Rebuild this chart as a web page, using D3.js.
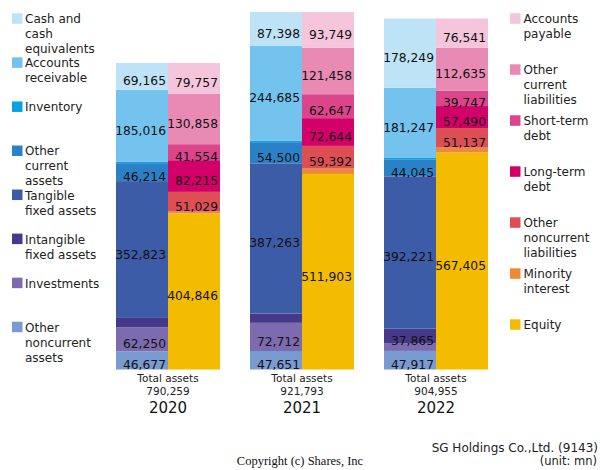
<!DOCTYPE html>
<html><head><meta charset="utf-8">
<script src="https://cdn.jsdelivr.net/npm/d3@7"></script>
<style>body{margin:0;background:#fff}svg{display:block}</style>
</head><body>
<script>
const years = ["2020", "2021", "2022"];
const totalAssets = [790259, 921793, 904955];
// assets (top to bottom)
const cash = [69165, 87398, 178249];
const receivables = [185016, 244685, 181247];
const inventory = [4114, 3584, 3400];
const otherCurrentAssets = [46214, 54500, 44045];
const tangibleAssets = [352823, 387263, 392221];
const intangibleAssets = [24000, 24000, 37865];
const investments = [62250, 72712, 20011];
const otherNoncurrentAssets = [46677, 47651, 47917];
// liabilities & equity (top to bottom)
const payables = [79757, 93749, 76541];
const otherCurrentLiabilities = [130858, 121458, 112635];
const shortTermDebt = [41554, 62647, 39747];
const longTermDebt = [82215, 72644, 57490];
const otherNoncurrentLiabilities = [51029, 59392, 51137];
const minorityInterest = [5000, 14000, 13000];
const equity = [404846, 511903, 567405];

const assetSeries = [
  {name: ["Cash and", "cash", "equivalents"], values: cash, color: "#BEE3F7"},
  {name: ["Accounts", "receivable"], values: receivables, color: "#74C2EE"},
  {name: ["Inventory"], values: inventory, color: "#05A2E2"},
  {name: ["Other", "current", "assets"], values: otherCurrentAssets, color: "#2B81C7"},
  {name: ["Tangible", "fixed assets"], values: tangibleAssets, color: "#3D5CA8"},
  {name: ["Intangible", "fixed assets"], values: intangibleAssets, color: "#46388A"},
  {name: ["Investments"], values: investments, color: "#7C6BAF"},
  {name: ["Other", "noncurrent", "assets"], values: otherNoncurrentAssets, color: "#7A9AD2"}
];
const liabSeries = [
  {name: ["Accounts", "payable"], values: payables, color: "#F5C5DB"},
  {name: ["Other", "current", "liabilities"], values: otherCurrentLiabilities, color: "#E88AB4"},
  {name: ["Short-term", "debt"], values: shortTermDebt, color: "#DC458B"},
  {name: ["Long-term", "debt"], values: longTermDebt, color: "#D4006A"},
  {name: ["Other", "noncurrent", "liabilities"], values: otherNoncurrentLiabilities, color: "#DE4E55"},
  {name: ["Minority", "interest"], values: minorityInterest, color: "#EC8A3A"},
  {name: ["Equity"], values: equity, color: "#F4BC00"}
];

const W = 600, H = 470;
const svg = d3.select("body").append("svg").attr("width", W).attr("height", H)
  .style("font-family", "'DejaVu Sans', sans-serif");

const x = d3.scaleBand().domain(years).range([101, 503]).paddingInner(0.224).paddingOuter(0.112);
const y = d3.scaleLinear().domain([0, d3.max(totalAssets)]).range([369.5, 12]);
const half = x.bandwidth() / 2;
const fmt = d3.format(",");

function drawSide(series, side) {
  const bottomUp = series.slice().reverse();
  years.forEach((yr, i) => {
    const sum = d3.sum(bottomUp, s => s.values[i]);
    const k = totalAssets[i] / sum;
    let acc = 0;
    const x0 = x(yr) + (side === "right" ? half : 0);
    bottomUp.forEach(s => {
      const v = s.values[i];
      const y0 = y(acc * k), y1 = y((acc + v) * k);
      acc += v;
      svg.append("rect").attr("x", x0).attr("y", y1).attr("width", half)
        .attr("height", y0 - y1).attr("fill", s.color);
      if (y0 - y1 >= 12) {
        svg.append("text").attr("x", x0 + half - 2).attr("y", (y0 + y1) / 2 + 9)
          .attr("text-anchor", "end").attr("font-size", "12.3px").attr("fill", "#111")
          .text(fmt(v));
      }
    });
  });
}
drawSide(assetSeries, "left");
drawSide(liabSeries, "right");

years.forEach((yr, i) => {
  const cx = x(yr) + x.bandwidth() / 2;
  svg.append("text").attr("x", cx).attr("y", 382).attr("text-anchor", "middle")
    .attr("font-size", "10.5px").attr("fill", "#222").text("Total assets");
  svg.append("text").attr("x", cx).attr("y", 395).attr("text-anchor", "middle")
    .attr("font-size", "10.5px").attr("fill", "#222").text(fmt(totalAssets[i]));
  svg.append("text").attr("x", cx).attr("y", 413).attr("text-anchor", "middle")
    .attr("font-size", "15px").attr("fill", "#111").text(yr);
});

function legend(series, sx, tx, top, step) {
  series.forEach((s, j) => {
    const yy = top + j * step;
    svg.append("rect").attr("x", sx).attr("y", yy).attr("width", 10.5).attr("height", 10.5).attr("fill", s.color);
    s.name.forEach((line, li) => {
      svg.append("text").attr("x", tx).attr("y", yy + 10 + li * 15)
        .attr("font-size", "12px").attr("fill", "#222").text(line);
    });
  });
}
legend(assetSeries, 12, 25, 13.3, 44.06);
legend(liabSeries, 510, 523.5, 13.3, 51);

svg.append("text").attr("x", 598).attr("y", 451.5).attr("text-anchor", "end")
  .attr("font-size", "12px").attr("fill", "#222").text("SG Holdings Co.,Ltd. (9143)");
svg.append("text").attr("x", 597).attr("y", 465).attr("text-anchor", "end")
  .attr("font-size", "11.5px").attr("fill", "#222").text("(unit: mn)");
svg.append("text").attr("x", 300).attr("y", 464.5).attr("text-anchor", "middle")
  .attr("font-family", "'Liberation Serif', 'Times New Roman', serif")
  .attr("font-size", "12.5px").attr("fill", "#111").text("Copyright (c) Shares, Inc");
</script>
</body></html>
